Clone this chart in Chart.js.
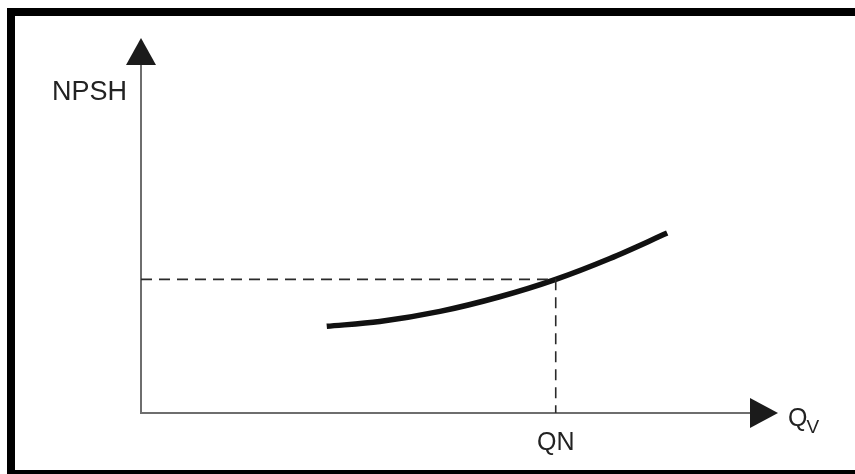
<!DOCTYPE html>
<html>
<head>
<meta charset="utf-8">
<script src="https://cdn.jsdelivr.net/npm/chart.js@4/dist/chart.umd.min.js"></script>
<style>
  html, body { margin: 0; padding: 0; background: #fff; overflow: hidden; width: 855px; height: 474px; }
  #frame {
    position: absolute; left: 7px; top: 8px; width: 1000px; height: 454px;
    border-top: 8px solid #000; border-left: 8px solid #000; border-bottom: 8px solid #000;
  }
  #wrap { position: absolute; left: 0; top: 0; width: 855px; height: 474px; }
</style>
</head>
<body>
<div id="frame"></div>
<div id="wrap"><canvas id="c" width="855" height="474"></canvas></div>
<script>
// Required NPSH against volume flow (arbitrary units)
const flowRate     = [3.05, 3.92, 4.91, 5.89, 6.81, 7.70, 8.64];
const npshRequired = [2.49, 2.63, 2.92, 3.34, 3.84, 4.44, 5.17];

// Nominal operating point
const nominalFlow = 6.81;
const nominalNpsh = 3.84;

// Axis ranges
const flowRange = [0, 10];
const npshRange = [0, 10];

// Axis texts
const nominalTickLabel = 'QN';
const yAxisTitle = 'NPSH';
const xAxisTitle = 'Q';
const xAxisTitleSub = 'V';

const curvePoints = flowRate.map((q, i) => ({ x: q, y: npshRequired[i] }));

// Arrow heads at the ends of both axes plus the axis titles
const axisArrows = {
  id: 'axisArrows',
  afterDraw(chart) {
    const { ctx, chartArea: a } = chart;
    ctx.save();
    ctx.fillStyle = '#1b1b1b';
    ctx.beginPath();
    ctx.moveTo(a.left, a.top - 27);
    ctx.lineTo(a.left - 15, a.top);
    ctx.lineTo(a.left + 15, a.top);
    ctx.closePath();
    ctx.fill();

    ctx.beginPath();
    ctx.moveTo(a.right + 28, a.bottom);
    ctx.lineTo(a.right, a.bottom - 15);
    ctx.lineTo(a.right, a.bottom + 15);
    ctx.closePath();
    ctx.fill();

    ctx.fillStyle = '#222';
    ctx.textBaseline = 'alphabetic';
    ctx.font = '27px "Liberation Sans", Arial, sans-serif';
    ctx.textAlign = 'right';
    ctx.fillText(yAxisTitle, a.left - 14, a.top + 35);

    ctx.textAlign = 'left';
    ctx.font = '25px "Liberation Sans", Arial, sans-serif';
    const qx = a.right + 38;
    ctx.fillText(xAxisTitle, qx, a.bottom + 13);
    const qw = ctx.measureText(xAxisTitle).width;
    ctx.font = '19px "Liberation Sans", Arial, sans-serif';
    ctx.fillText(xAxisTitleSub, qx + qw - 1, a.bottom + 20);
    ctx.restore();
  }
};

new Chart(document.getElementById('c'), {
  type: 'scatter',
  data: {
    datasets: [
      {
        data: [{ x: flowRange[0], y: nominalNpsh }, { x: nominalFlow, y: nominalNpsh }],
        showLine: true, borderColor: '#2a2a2a', borderWidth: 1.6, borderDash: [11, 7],
        pointRadius: 0
      },
      {
        data: [{ x: nominalFlow, y: nominalNpsh }, { x: nominalFlow, y: npshRange[0] }],
        showLine: true, borderColor: '#2a2a2a', borderWidth: 1.6, borderDash: [11, 7],
        pointRadius: 0
      },
      {
        data: curvePoints,
        showLine: true, borderColor: '#111', borderWidth: 5.5,
        cubicInterpolationMode: 'monotone', pointRadius: 0, borderCapStyle: 'butt'
      }
    ]
  },
  options: {
    responsive: false,
    animation: false,
    layout: { padding: { left: 141, right: 105, top: 65, bottom: 1 } },
    plugins: { legend: { display: false }, tooltip: { enabled: false } },
    scales: {
      x: {
        type: 'linear', min: flowRange[0], max: flowRange[1],
        grid: { display: false, drawTicks: false },
        border: { color: '#6e6e6e', width: 2 },
        afterBuildTicks: (s) => { s.ticks = [{ value: nominalFlow }]; },
        ticks: {
          padding: 15, color: '#222', maxRotation: 0, autoSkip: false,
          font: { size: 25, family: '"Liberation Sans", Arial, sans-serif' },
          callback: () => nominalTickLabel
        }
      },
      y: {
        type: 'linear', min: npshRange[0], max: npshRange[1],
        grid: { display: false, drawTicks: false },
        border: { color: '#6e6e6e', width: 2 },
        ticks: { display: false }
      }
    }
  },
  plugins: [axisArrows]
});
</script>
</body>
</html>
